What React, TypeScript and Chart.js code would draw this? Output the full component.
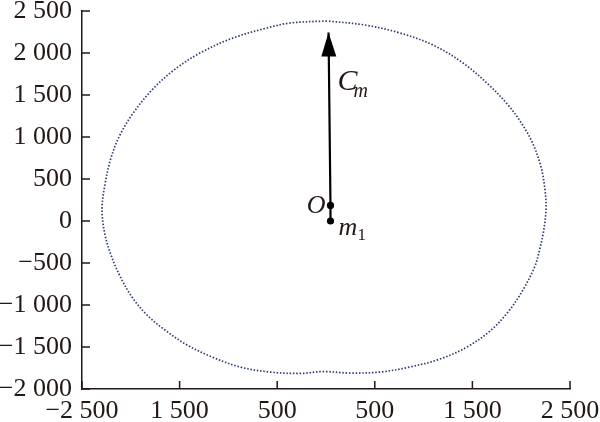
import React, { useEffect, useRef } from "react";
import { Chart, registerables } from "chart.js";

Chart.register(...registerables);

// Closed trajectory (dotted curve), counter-clockwise from the top
const curveX = [10, -369, -605, -953, -1291, -1557, -1783, -1967, -2111, -2203, -2264, -2295, -2264, -2203, -2111, -1988, -1834, -1650, -1424, -1168, -881, -574, -266, -31, 246, 553, 861, 1168, 1445, 1680, 1865, 2018, 2141, 2193, 2228, 2254, 2244, 2203, 2121, 2008, 1865, 1670, 1404, 1096, 758, 400, 10];
const curveY = [2381, 2357, 2298, 2179, 2000, 1798, 1560, 1298, 1024, 750, 440, 131, -167, -405, -655, -905, -1119, -1298, -1476, -1619, -1738, -1798, -1815, -1792, -1810, -1798, -1738, -1643, -1500, -1310, -1083, -821, -536, -321, -131, 131, 369, 643, 917, 1155, 1381, 1619, 1881, 2095, 2238, 2333, 2381];

// Vector C_m: m1 -> O -> arrow tip
const shaftX = [46, 46, 26];
const shaftY = [0, 185, 2244];
const shaftLabels = ["m1", "O", "tip"];

const xTickValues = [-2500, -1500, -500, 500, 1500, 2500];
const xTickLabels = ["\u22122 500", "1 500", "500", "500", "1 500", "2 500"];
const yTickValues = [-2000, -1500, -1000, -500, 0, 500, 1000, 1500, 2000, 2500];
const yTickLabels = ["\u22122 000", "\u22121 500", "\u22121 000", "\u2212500", "0", "500", "1 000", "1 500", "2 000", "2 500"];

const INK = "#231815";
const SERIF = "'Liberation Serif', 'Times New Roman', serif";

const decorPlugin = {
  id: "decor",
  afterDatasetsDraw(chart: any) {
    const ctx = chart.ctx;
    const xs = chart.scales.x;
    const ys = chart.scales.y;
    const area = chart.chartArea;
    ctx.save();
    // inward ticks
    ctx.strokeStyle = INK;
    ctx.lineWidth = 1.5;
    ctx.beginPath();
    xTickValues.forEach((v) => {
      const px = xs.getPixelForValue(v);
      ctx.moveTo(px, area.bottom);
      ctx.lineTo(px, area.bottom - 8);
    });
    yTickValues.forEach((v) => {
      const py = ys.getPixelForValue(v);
      ctx.moveTo(area.left, py);
      ctx.lineTo(area.left + 8, py);
    });
    ctx.stroke();

    // arrow head
    const ox = xs.getPixelForValue(shaftX[1]);
    const oy = ys.getPixelForValue(shaftY[1]);
    const tx = xs.getPixelForValue(shaftX[2]);
    const ty = ys.getPixelForValue(shaftY[2]);
    const dx = tx - ox;
    const dy = ty - oy;
    const len = Math.hypot(dx, dy);
    const ux = dx / len;
    const uy = dy / len;
    const bx = tx - ux * 24;
    const by = ty - uy * 24;
    ctx.fillStyle = "#000";
    ctx.beginPath();
    ctx.moveTo(tx, ty);
    ctx.lineTo(bx - uy * 7.5, by + ux * 7.5);
    ctx.lineTo(bx + uy * 7.5, by - ux * 7.5);
    ctx.closePath();
    ctx.fill();

    // labels
    const mx = xs.getPixelForValue(shaftX[0]);
    const my = ys.getPixelForValue(shaftY[0]);
    ctx.fillStyle = INK;
    ctx.textBaseline = "alphabetic";
    ctx.textAlign = "left";
    ctx.font = `italic 30px ${SERIF}`;
    ctx.fillText("C", tx + 9, ty + 57);
    ctx.font = `italic 20px ${SERIF}`;
    ctx.fillText("m", tx + 25, ty + 64);
    ctx.font = `italic 26px ${SERIF}`;
    ctx.fillText("m", mx + 8, my + 14);
    ctx.font = `17px ${SERIF}`;
    ctx.fillText("1", mx + 27, my + 19);
    ctx.textAlign = "right";
    ctx.font = `italic 26px ${SERIF}`;
    ctx.fillText("O", ox - 5, oy + 8);
    ctx.restore();
  },
};

export default function App() {
  const ref = useRef<HTMLCanvasElement | null>(null);
  useEffect(() => {
    if (!ref.current) return;
    const chart = new Chart(ref.current, {
      type: "scatter",
      data: {
        datasets: [
          {
            label: "trajectory",
            data: curveX.map((x, i) => ({ x, y: curveY[i] })),
            showLine: true,
            borderColor: "#2c3a78",
            borderWidth: 1.7,
            borderDash: [1.5, 1.8],
            pointRadius: 0,
            tension: 0.35,
            fill: false,
          },
          {
            label: "Cm",
            data: shaftX.map((x, i) => ({ x, y: shaftY[i], name: shaftLabels[i] })),
            showLine: true,
            borderColor: "#000",
            borderWidth: 2.2,
            pointRadius: [3.6, 3.6, 0],
            pointBackgroundColor: "#000",
            pointBorderWidth: 0,
            tension: 0,
          },
        ],
      },
      options: {
        responsive: false,
        animation: false,
        layout: { padding: { left: 0, right: 30, top: 11, bottom: 0 } },
        plugins: { legend: { display: false }, tooltip: { enabled: false } },
        scales: {
          x: {
            type: "linear",
            min: -2500,
            max: 2500,
            afterBuildTicks: (s: any) => {
              s.ticks = xTickValues.map((value) => ({ value }));
            },
            afterFit: (s: any) => {
              s.height = 33;
              s.paddingLeft = 0;
              s.paddingRight = 0;
            },
            grid: { display: false, drawTicks: false },
            border: { display: true, color: INK, width: 1.5 },
            ticks: {
              padding: 7,
              color: INK,
              font: { family: SERIF, size: 26 },
              autoSkip: false,
              maxRotation: 0,
              callback: (_v: any, i: number) => xTickLabels[i],
            },
          },
          y: {
            type: "linear",
            min: -2000,
            max: 2500,
            afterBuildTicks: (s: any) => {
              s.ticks = yTickValues.map((value) => ({ value }));
            },
            afterFit: (s: any) => {
              s.width = 82;
              s.paddingTop = 0;
              s.paddingBottom = 0;
            },
            grid: { display: false, drawTicks: false },
            border: { display: true, color: INK, width: 1.5 },
            ticks: {
              padding: 10,
              color: INK,
              font: { family: SERIF, size: 26 },
              autoSkip: false,
              callback: (_v: any, i: number) => yTickLabels[i],
            },
          },
        },
      },
      plugins: [decorPlugin],
    });
    return () => chart.destroy();
  }, []);
  return (
    <div style={{ position: "fixed", left: 0, top: 0, width: 600, height: 422, background: "#fff" }}>
      <canvas ref={ref} width={600} height={422} />
    </div>
  );
}
